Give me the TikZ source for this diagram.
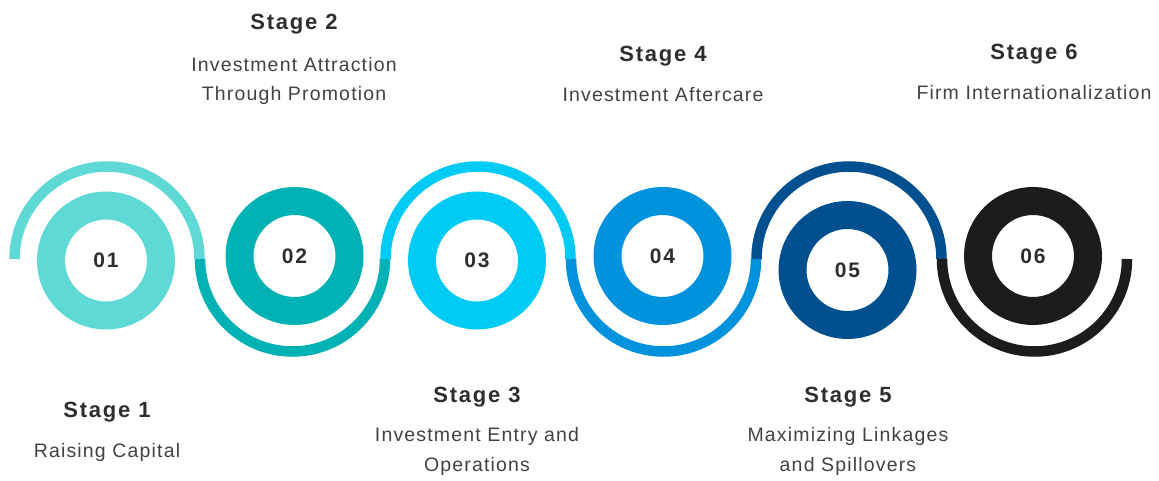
\documentclass[tikz,border=0pt]{standalone}
\usepackage{fontspec}
\setmainfont{Liberation Sans}
\newfontfamily\bodyfont[LetterSpace=6]{Liberation Sans}
\newfontfamily\headfont[LetterSpace=8]{Liberation Sans}
\newfontfamily\numfont[LetterSpace=8]{Liberation Sans}

\definecolor{cOne}{HTML}{5FD9D5}
\definecolor{cTwo}{HTML}{00B2B4}
\definecolor{cThree}{HTML}{00CBF4}
\definecolor{cFour}{HTML}{0092DC}
\definecolor{cFive}{HTML}{005090}
\definecolor{cSix}{HTML}{1C1C1C}
\definecolor{ink}{HTML}{2E2E2E}
\definecolor{inkgrey}{HTML}{424242}

\begin{document}
\begin{tikzpicture}[x=1pt,y=1pt,
  ring/.style={circle, draw=#1, line width=28pt, minimum size=110pt, inner sep=0pt,
    font=\numfont\bfseries\fontsize{21}{23}\selectfont, text=ink},
  sweep/.style={draw=#1, line width=10.5pt},
  stagehead/.style={font=\headfont\bfseries\fontsize{22}{24}\selectfont, text=ink},
  stagetext/.style={font=\bodyfont\fontsize{19.5}{29.5}\selectfont, text=inkgrey, align=center}]

% page frame
\fill[white] (0,0) rectangle (1159,480);
\useasboundingbox (0,0) rectangle (1159,480);

% centres of the winding half-circles
\coordinate (a1) at (107,221);
\coordinate (a2) at (292.5,221);
\coordinate (a3) at (478,221);
\coordinate (a4) at (663.5,221);
\coordinate (a5) at (849,221);
\coordinate (a6) at (1034.5,221);

% winding path: alternating upper and lower half-circles
\draw[sweep=cOne]   ([xshift=-92.5pt]a1) arc[start angle=180, end angle=0,   radius=92.5];
\draw[sweep=cTwo]   ([xshift=-92.5pt]a2) arc[start angle=180, end angle=360, radius=92.5];
\draw[sweep=cThree] ([xshift=-92.5pt]a3) arc[start angle=180, end angle=0,   radius=92.5];
\draw[sweep=cFour]  ([xshift=-92.5pt]a4) arc[start angle=180, end angle=360, radius=92.5];
\draw[sweep=cFive]  ([xshift=-92.5pt]a5) arc[start angle=180, end angle=0,   radius=92.5];
\draw[sweep=cSix]   ([xshift=-92.5pt]a6) arc[start angle=180, end angle=360, radius=92.5];

% numbered rings
\node[ring=cOne]   (r1) at (106,219.5) {01};
\node[ring=cTwo]   (r2) at (294.5,224) {02};
\node[ring=cThree] (r3) at (477,219.5) {03};
\node[ring=cFour]  (r4) at (662.5,224) {04};
\node[ring=cFive]  (r5) at (847.5,210) {05};
\node[ring=cSix]   (r6) at (1033,224)  {06};

% stage labels
\node[stagehead] (h1) at (107,68)   {Stage 1};
\node[stagetext] (t1) at (107,28)   {Raising Capital};

\node[stagehead] (h2) at (294,456)  {Stage 2};
\node[stagetext] (t2) at (294,399)  {Investment Attraction\\Through Promotion};

\node[stagehead] (h3) at (477,83)   {Stage 3};
\node[stagetext] (t3) at (477,28.5) {Investment Entry and\\Operations};

\node[stagehead] (h4) at (663,424)  {Stage 4};
\node[stagetext] (t4) at (663,385)  {Investment Aftercare};

\node[stagehead] (h5) at (848,83)   {Stage 5};
\node[stagetext] (t5) at (848,28.5) {Maximizing Linkages\\and Spillovers};

\node[stagehead] (h6) at (1034,426) {Stage 6};
\node[stagetext] (t6) at (1034,387) {Firm Internationalization};
\end{tikzpicture}
\end{document}
